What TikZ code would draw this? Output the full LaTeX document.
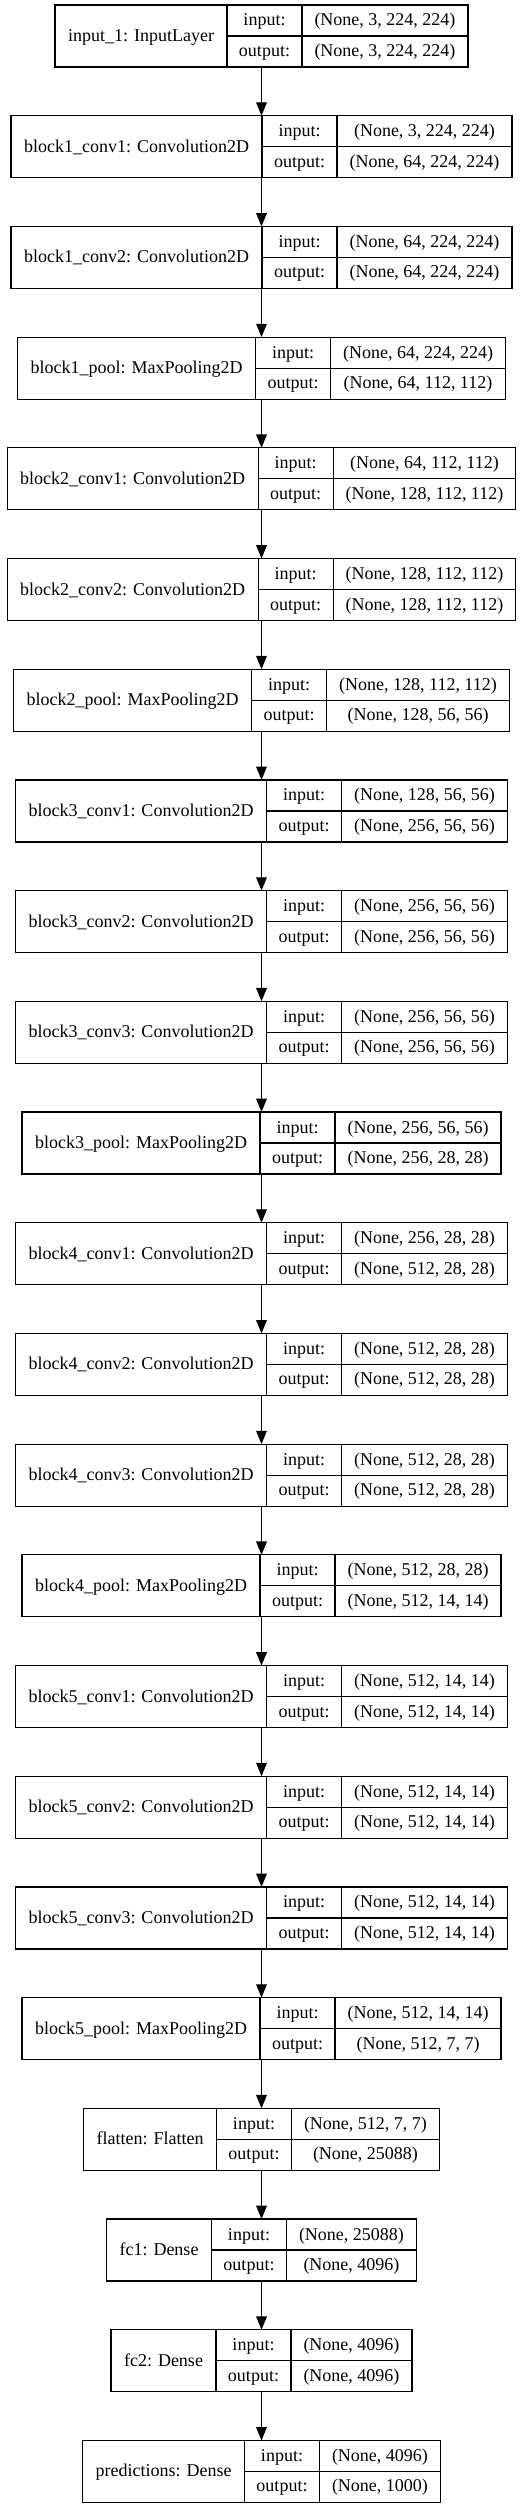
\documentclass[tikz,border=0pt]{standalone}
\usepackage{fontspec}
\setmainfont{Liberation Serif}
\usetikzlibrary{arrows.meta}
\newlength\lenA \newlength\lenB \newlength\lenC \newlength\lenD
\newcommand\lfont{\fontsize{13.5pt}{16pt}\selectfont}
\newcommand\cx{261.5}
\newcommand\padA{26}
\newcommand\padB{24}
\newcommand\padC{25}
\newcommand\measure[4]{%
  \settowidth\lenA{\lfont #2}%
  \settowidth\lenB{\lfont output:}%
  \settowidth\lenC{\lfont #3}%
  \settowidth\lenD{\lfont #4}%
  \ifdim\lenD>\lenC \lenC=\lenD\fi
  \expandafter\xdef\csname wa#1\endcsname{\the\lenA}%
  \expandafter\xdef\csname wb#1\endcsname{\the\lenB}%
  \expandafter\xdef\csname wc#1\endcsname{\the\lenC}%
}
\newcommand\mklayer[4]{%
  \pgfmathsetmacro\fa{\csname wa#1\endcsname/0.75+\padA}%
  \pgfmathsetmacro\fb{\csname wb#1\endcsname/0.75+\padB}%
  \pgfmathsetmacro\fc{\csname wc#1\endcsname/0.75+\padC}%
  \pgfmathsetmacro\tot{\fa+\fb+\fc}%
  \pgfmathsetmacro\totpt{\tot*0.75}%
  \pgfmathsetmacro\xl{\cx-\tot/2}%
  \pgfmathsetmacro\xs{\xl+\fa}%
  \pgfmathsetmacro\xt{\xs+\fb}%
  \pgfmathsetmacro\xr{\xl+\tot}%
  \pgfmathsetmacro\yt{5+110.7*#1}%
  \pgfmathsetmacro\ym{\yt+31}%
  \pgfmathsetmacro\yb{\yt+62}%
  \pgfmathsetmacro\xla{(\xl+\xs)/2}%
  \pgfmathsetmacro\xlb{(\xs+\xt)/2}%
  \pgfmathsetmacro\xlc{(\xt+\xr)/2}%
  \node[rec, minimum width=\totpt pt, minimum height=46.5pt] (L#1) at (\cx,\ym) {};
  \draw[sepline] (\xs,\yt) -- (\xs,\yb) (\xt,\yt) -- (\xt,\yb) (\xs,\ym) -- (\xr,\ym);
  \node[txt] (L#1l) at (\xla,\ym+5.5) {#2};
  \node[txt] (L#1i) at (\xlb,\yt+21) {input:};
  \node[txt] (L#1o) at (\xlb,\yt+51.5) {output:};
  \node[txt] (L#1a) at (\xlc,\yt+21) {#3};
  \node[txt] (L#1b) at (\xlc,\yt+51.5) {#4};
}
\newcommand\layerlist{%
\L{0}{input\_1: InputLayer}{(None, 3, 224, 224)}{(None, 3, 224, 224)}
\L{1}{block1\_conv1: Convolution2D}{(None, 3, 224, 224)}{(None, 64, 224, 224)}
\L{2}{block1\_conv2: Convolution2D}{(None, 64, 224, 224)}{(None, 64, 224, 224)}
\L{3}{block1\_pool: MaxPooling2D}{(None, 64, 224, 224)}{(None, 64, 112, 112)}
\L{4}{block2\_conv1: Convolution2D}{(None, 64, 112, 112)}{(None, 128, 112, 112)}
\L{5}{block2\_conv2: Convolution2D}{(None, 128, 112, 112)}{(None, 128, 112, 112)}
\L{6}{block2\_pool: MaxPooling2D}{(None, 128, 112, 112)}{(None, 128, 56, 56)}
\L{7}{block3\_conv1: Convolution2D}{(None, 128, 56, 56)}{(None, 256, 56, 56)}
\L{8}{block3\_conv2: Convolution2D}{(None, 256, 56, 56)}{(None, 256, 56, 56)}
\L{9}{block3\_conv3: Convolution2D}{(None, 256, 56, 56)}{(None, 256, 56, 56)}
\L{10}{block3\_pool: MaxPooling2D}{(None, 256, 56, 56)}{(None, 256, 28, 28)}
\L{11}{block4\_conv1: Convolution2D}{(None, 256, 28, 28)}{(None, 512, 28, 28)}
\L{12}{block4\_conv2: Convolution2D}{(None, 512, 28, 28)}{(None, 512, 28, 28)}
\L{13}{block4\_conv3: Convolution2D}{(None, 512, 28, 28)}{(None, 512, 28, 28)}
\L{14}{block4\_pool: MaxPooling2D}{(None, 512, 28, 28)}{(None, 512, 14, 14)}
\L{15}{block5\_conv1: Convolution2D}{(None, 512, 14, 14)}{(None, 512, 14, 14)}
\L{16}{block5\_conv2: Convolution2D}{(None, 512, 14, 14)}{(None, 512, 14, 14)}
\L{17}{block5\_conv3: Convolution2D}{(None, 512, 14, 14)}{(None, 512, 14, 14)}
\L{18}{block5\_pool: MaxPooling2D}{(None, 512, 14, 14)}{(None, 512, 7, 7)}
\L{19}{flatten: Flatten}{(None, 512, 7, 7)}{(None, 25088)}
\L{20}{fc1: Dense}{(None, 25088)}{(None, 4096)}
\L{21}{fc2: Dense}{(None, 4096)}{(None, 4096)}
\L{22}{predictions: Dense}{(None, 4096)}{(None, 1000)}
}
\tikzset{
  rec/.style={draw=black, line width=0.9pt, inner sep=0pt, outer sep=0pt, rectangle},
  sepline/.style={draw=black, line width=0.9pt},
  txt/.style={font=\lfont, anchor=base, inner sep=0pt},
  arr/.style={draw=black, line width=0.9pt, -{Triangle[length=10pt,width=8pt]}}
}
\begin{document}
\let\L\measure
\layerlist
\begin{tikzpicture}[x=0.75pt,y=-0.75pt]
\useasboundingbox (0,0) rectangle (523,2508);
\fill[white] (0,0) rectangle (523,2508);
\let\L\mklayer
\layerlist
\foreach \i [evaluate=\i as \j using int(\i+1)] in {0,...,21}
  \draw[arr] (L\i.south) -- (L\j.north);
\end{tikzpicture}
\end{document}
